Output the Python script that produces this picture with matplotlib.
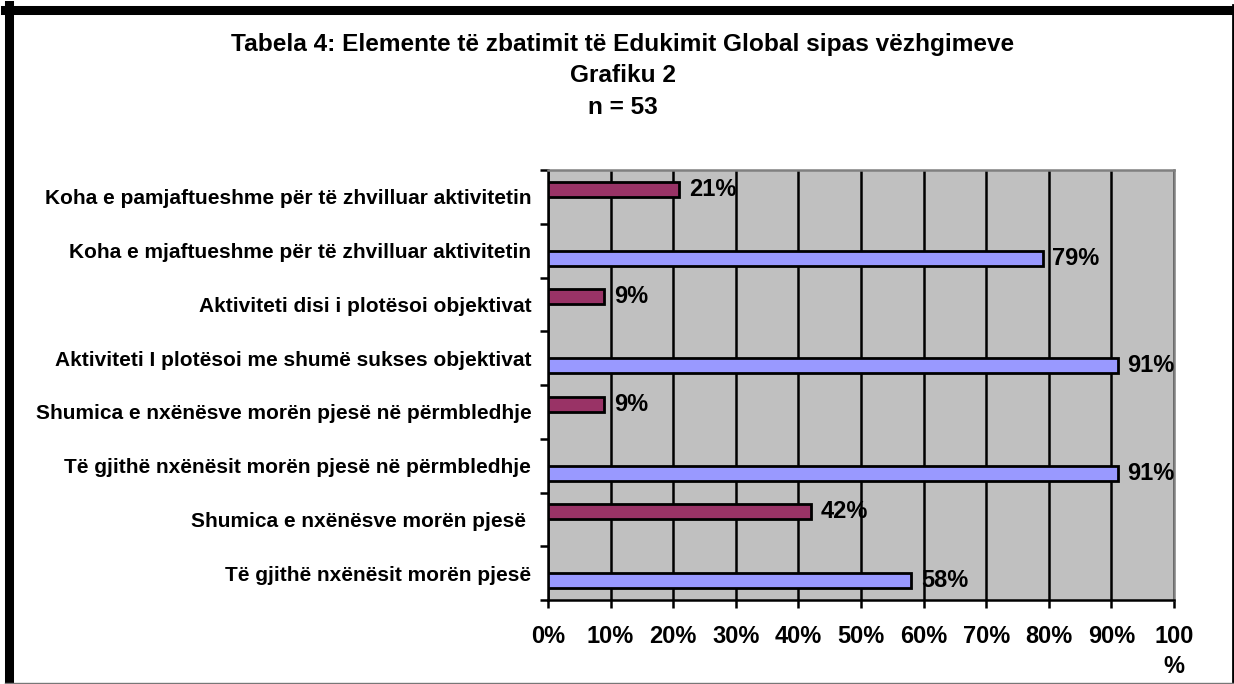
import matplotlib
matplotlib.use('Agg')
import matplotlib.pyplot as plt
import numpy as np
from matplotlib.lines import Line2D

plt.rcParams['font.family'] = ['Liberation Sans', 'DejaVu Sans']
plt.rcParams['font.weight'] = 'bold'

# categories from top to bottom
categories = [
    'Koha e pamjaftueshme për të zhvilluar aktivitetin',
    'Koha e mjaftueshme për të zhvilluar aktivitetin',
    'Aktiviteti disi i plotësoi objektivat',
    'Aktiviteti I plotësoi me shumë sukses objektivat',
    'Shumica e nxënësve morën pjesë në përmbledhje',
    'Të gjithë nxënësit morën pjesë në përmbledhje',
    'Shumica e nxënësve morën pjesë ',
    'Të gjithë nxënësit morën pjesë',
]
# two series, missing where the category belongs to the other series
series_maroon = [21, np.nan, 9, np.nan, 9, np.nan, 42, np.nan]
series_blue = [np.nan, 79, np.nan, 91, np.nan, 91, np.nan, 58]
x_ticks = [0, 10, 20, 30, 40, 50, 60, 70, 80, 90, 100]
x_tick_labels = ['0%', '10%', '20%', '30%', '40%', '50%', '60%', '70%',
                 '80%', '90%', '100\n%']

MAROON = '#993366'
BLUE = '#9999FF'
BAR_H = 1 / 3.5

W, H = 1234, 684
fig = plt.figure(figsize=(W / 100, H / 100), dpi=100)
ax = fig.add_axes([548 / W, 1 - 600 / H, 626 / W, 430 / H])
ax.set_facecolor('#C0C0C0')

centers = np.arange(len(categories)) + 0.5
ax.barh(centers - BAR_H / 2, series_maroon, height=BAR_H, color=MAROON,
        edgecolor='black', linewidth=2, zorder=3)
ax.barh(centers + BAR_H / 2, series_blue, height=BAR_H, color=BLUE,
        edgecolor='black', linewidth=2, zorder=3)

for yc, v in list(zip(centers - BAR_H / 2, series_maroon)) + list(zip(centers + BAR_H / 2, series_blue)):
    if not np.isnan(v):
        ax.annotate(f'{v:.0f}%', (v, yc), xytext=(7, 0), textcoords='offset points',
                    va='center', ha='left', fontsize=17, fontweight='bold', zorder=4,
                    annotation_clip=False)

ax.set_xlim(0, 100)
ax.set_ylim(len(categories), 0)

ax.set_xticks(x_ticks)
ax.set_xticklabels(x_tick_labels, fontsize=17, fontweight='bold', linespacing=1.4,
                   va='top')
ax.tick_params(axis='x', length=6, width=1.8, pad=12, direction='out')
ax.xaxis.grid(True, color='black', linewidth=1.8, zorder=1)
ax.set_axisbelow(True)

ax.set_yticks(np.arange(len(categories) + 1))
ax.set_yticklabels([])
ax.set_yticks(centers, minor=True)
ax.set_yticklabels(categories, minor=True, fontsize=15, fontweight='bold')
ax.tick_params(axis='y', which='major', length=6, width=1.8, direction='out')
ax.tick_params(axis='y', which='minor', length=0, pad=12)

for side in ('left', 'bottom'):
    ax.spines[side].set_color('black')
    ax.spines[side].set_linewidth(1.8)
for side in ('top', 'right'):
    ax.spines[side].set_color('#808080')
    ax.spines[side].set_linewidth(1.8)

fig.text(623 / W, 1 - 44 / H, 'Tabela 4: Elemente të zbatimit të Edukimit Global sipas vëzhgimeve',
         ha='center', va='center', fontsize=17.6, fontweight='bold')
fig.text(623 / W, 1 - 76 / H, 'Grafiku 2', ha='center', va='center',
         fontsize=17.6, fontweight='bold')
fig.text(623 / W, 1 - 107 / H, 'n = 53', ha='center', va='center',
         fontsize=17.6, fontweight='bold')

# outer chart border
bw = 6.5
fig.add_artist(Line2D([9 / W, 9 / W], [0, 1 - 5 / H], transform=fig.transFigure,
                      color='black', linewidth=bw, solid_capstyle='projecting'))
fig.add_artist(Line2D([5 / W, 1], [1 - 9.5 / H, 1 - 9.5 / H], transform=fig.transFigure,
                      color='black', linewidth=bw))
fig.add_artist(Line2D([1 - 1 / W, 1 - 1 / W], [0, 1 - 5 / H], transform=fig.transFigure,
                      color='black', linewidth=2))
fig.add_artist(Line2D([5 / W, 1], [1.0 / H, 1.0 / H], transform=fig.transFigure,
                      color='#777777', linewidth=1))

fig.savefig('out.png', dpi=100)
